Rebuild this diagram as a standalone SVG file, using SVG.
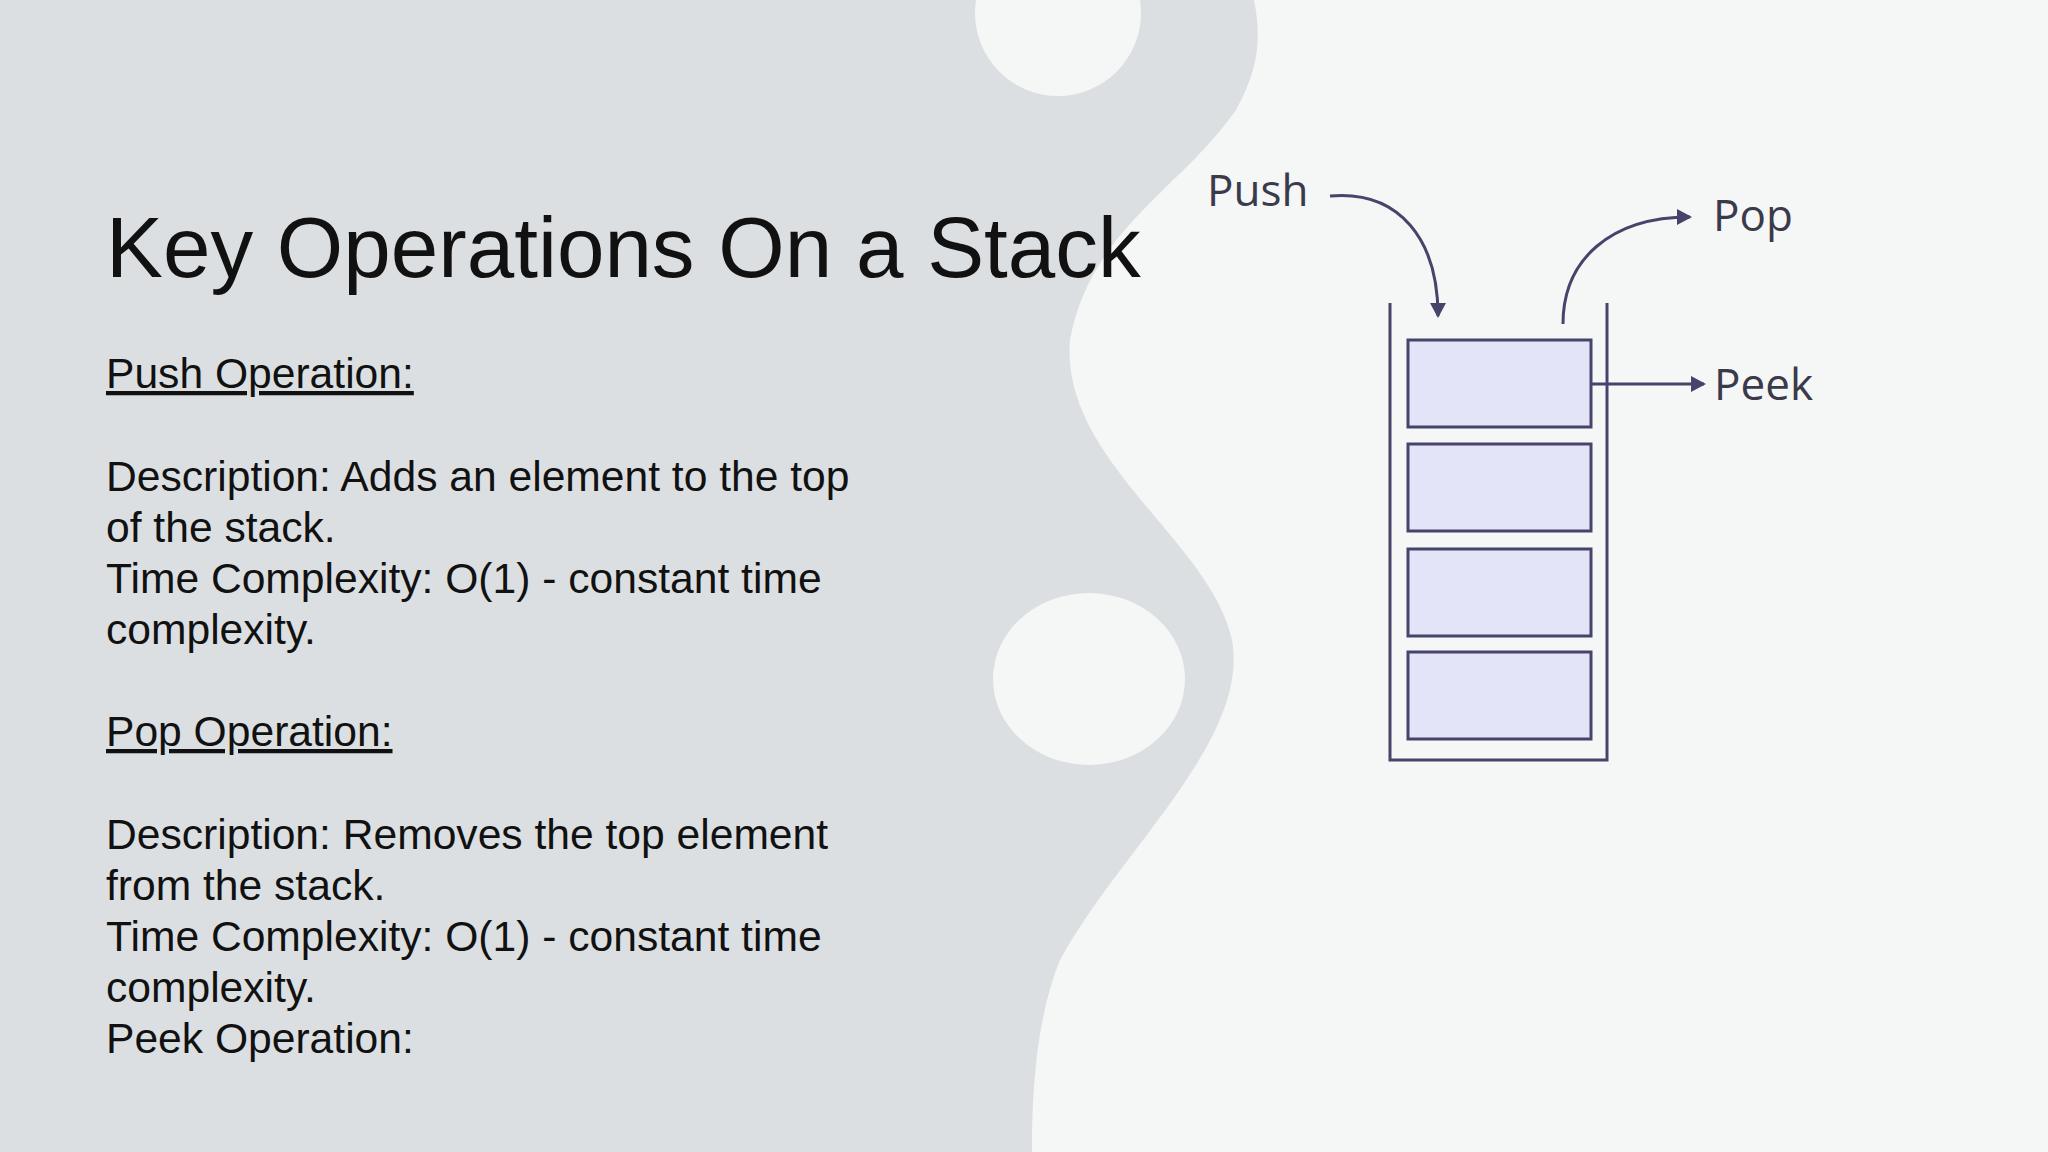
<svg xmlns="http://www.w3.org/2000/svg" width="2048" height="1152" viewBox="0 0 2048 1152">
<defs>
<style>
.b{font-family:"Liberation Sans",Arial,sans-serif;font-size:42.6px;fill:#111}
.d{font-family:"Open Sans","Noto Sans",sans-serif;font-size:44px;fill:#3a3a4a}
.box{fill:#e4e4f8;stroke:#45456b;stroke-width:3}
.c{fill:none;stroke:#45456b;stroke-width:3}
</style>
<marker id="ah" markerWidth="18" markerHeight="18" refX="13" refY="8" orient="auto" markerUnits="userSpaceOnUse"><path d="M0,0 L15,8 L0,16 Z" fill="#45456b"/></marker>
</defs>
<rect width="2048" height="1152" fill="#f5f6f6"/>
<path d="M0,0 H1254 C1262,40 1258,70 1236,110 C1180,190 1090,230 1070,340 C1060,460 1210,540 1232,640 C1250,740 1120,850 1060,960 C1035,1020 1032,1100 1032,1152 H0 Z" fill="#dcdfe1"/>
<circle cx="1058" cy="13" r="83" fill="#f5f6f6"/>
<ellipse cx="1089" cy="679" rx="96" ry="86" fill="#f5f6f6"/>
<g id="title"><text x="106" y="277" font-family="Liberation Sans,Arial,sans-serif" font-size="85.4" fill="#111">Key Operations On a Stack</text></g>
<g id="body">
<text class="b" x="106" y="388" text-decoration="underline">Push Operation:</text>
<text class="b" x="106" y="491">Description: Adds an element to the top</text>
<text class="b" x="106" y="542">of the stack.</text>
<text class="b" x="106" y="593">Time Complexity: O(1) - constant time</text>
<text class="b" x="106" y="644">complexity.</text>
<text class="b" x="106" y="746" text-decoration="underline">Pop Operation:</text>
<text class="b" x="106" y="849">Description: Removes the top element</text>
<text class="b" x="106" y="900">from the stack.</text>
<text class="b" x="106" y="951">Time Complexity: O(1) - constant time</text>
<text class="b" x="106" y="1002">complexity.</text>
<text class="b" x="106" y="1053">Peek Operation:</text>
</g>
<g id="stack">
<path class="c" d="M1390,303 V760 H1607 V303"/>
<rect class="box" x="1408" y="340" width="183" height="87"/>
<rect class="box" x="1408" y="444" width="183" height="87"/>
<rect class="box" x="1408" y="549" width="183" height="87"/>
<rect class="box" x="1408" y="652" width="183" height="87"/>
</g>
<g id="push"><text class="d" x="1207" y="206">Push</text></g>
<g id="pop"><text class="d" x="1713" y="231">Pop</text></g>
<g id="peek"><text class="d" x="1714" y="400">Peek</text></g>
<g id="connectors">
<path class="c" d="M1330,196 C1400,190 1438,240 1438,316" marker-end="url(#ah)"/>
<path class="c" d="M1563,324 C1563,260 1610,217 1690,217" marker-end="url(#ah)"/>
<path class="c" d="M1591,384 H1704" marker-end="url(#ah)"/>
</g>
</svg>
